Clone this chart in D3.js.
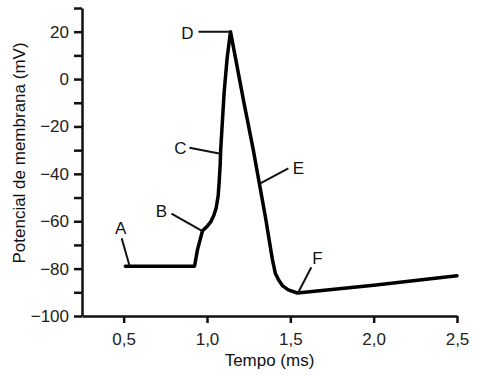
<!DOCTYPE html>
<meta charset="utf-8">
<style>
body { margin: 0; background: #fff; }
svg { font-family: "Liberation Sans", Arial, sans-serif; }
.axis path, .axis line { stroke: #111; }
.axis text { fill: #222; font-size: 17px; }
.trace { fill: none; stroke: #000; stroke-width: 3.5px; stroke-linejoin: round; stroke-linecap: round; }
.lead { stroke: #111; stroke-width: 2px; }
.mark-label { font-size: 17px; fill: #111; text-anchor: middle; }
</style>
<svg width="480" height="378"></svg>
<script src="https://cdn.jsdelivr.net/npm/d3@7"></script>
<script>

// action potential trace
var time    = [0.51, 0.925, 0.943, 0.973, 0.998, 1.022, 1.040, 1.055, 1.067, 1.073, 1.079, 1.082,
               1.103, 1.121, 1.141, 1.219, 1.278, 1.314, 1.350, 1.392, 1.410, 1.430, 1.454,
               1.488, 1.542, 2.0, 2.5];
var voltage = [-79, -79, -72, -64, -62.4, -60.3, -57.7, -54.4, -49.3, -43.4, -36.2, -30,
               -5.4, 9, 20, -9, -30, -44, -58, -76, -82, -84.8, -87.3,
               -89, -90.3, -87, -83];

var xTicks = [0.5, 1.0, 1.5, 2.0, 2.5];
var yTicks = [-100, -90, -80, -70, -60, -50, -40, -30, -20, -10, 0, 10, 20, 30];
var yLabelled = [-100, -80, -60, -40, -20, 0, 20];

// lettered points on the curve
var markLabels = ["A", "B", "C", "D", "E", "F"];
var markTime   = [0.536, 0.967, 1.081, 1.141, 1.32, 1.548];
var markVolt   = [-79, -64, -31.5, 20, -44, -90];

var svg = d3.select("svg"),
    margin = {top: 8, right: 23, bottom: 62, left: 82},
    width = 480 - margin.left - margin.right,
    height = 378 - margin.top - margin.bottom,
    g = svg.append("g").attr("transform", "translate(" + margin.left + "," + margin.top + ")");

var x = d3.scaleLinear().domain([0.25, 2.5]).range([0, width]),
    y = d3.scaleLinear().domain([-100, 30]).range([height, 0]);

var fmtX = function(d) { return d3.format(".1f")(d).replace(".", ","); };
var fmtY = function(d) {
  if (yLabelled.indexOf(d) < 0) return "";
  return d < 0 ? "\u2212" + Math.abs(d) : "" + d;
};

// x axis
var xa = g.append("g")
    .attr("class", "axis")
    .attr("transform", "translate(0," + height + ")")
    .call(d3.axisBottom(x).tickValues(xTicks).tickFormat(fmtX).tickSize(7).tickSizeOuter(0).tickPadding(10));
xa.select(".domain").attr("stroke-width", 2.5);
xa.selectAll(".tick line").attr("stroke-width", 2.5);

// y axis
var ya = g.append("g")
    .attr("class", "axis")
    .call(d3.axisLeft(y).tickValues(yTicks).tickFormat(fmtY).tickSize(8).tickSizeOuter(0).tickPadding(5));
ya.select(".domain").attr("stroke-width", 2.5);
ya.selectAll(".tick line").attr("stroke-width", 2.5);

// axis titles
svg.append("text")
    .attr("x", margin.left + width / 2)
    .attr("y", 366)
    .attr("text-anchor", "middle")
    .style("font-size", "17px")
    .attr("fill", "#111")
    .text("Tempo (ms)");

svg.append("text")
    .attr("transform", "translate(25," + 153 + ") rotate(-90)")
    .attr("text-anchor", "middle")
    .style("font-size", "17px")
    .attr("fill", "#111")
    .text("Potencial de membrana (mV)");

// the trace
var line = d3.line()
    .x(function(d, i) { return x(time[i]); })
    .y(function(d) { return y(d); });

g.append("path")
    .attr("class", "trace")
    .attr("d", line(voltage));

// leader lines + letters, offsets in px from the anchor
var leadOff = [[-8, -28], [-30, -17], [-31, -6], [-32, 0], [28, -15], [13, -25]];
var textOff = [[-9, -32], [-40, -14], [-40, 0], [-43, 7], [38, -9], [19, -28]];

var marks = g.selectAll(".mark")
    .data(markLabels)
    .enter().append("g")
    .attr("class", "mark")
    .attr("transform", function(d, i) { return "translate(" + x(markTime[i]) + "," + y(markVolt[i]) + ")"; });

marks.append("line")
    .attr("class", "lead")
    .attr("x1", 0).attr("y1", 0)
    .attr("x2", function(d, i) { return leadOff[i][0]; })
    .attr("y2", function(d, i) { return leadOff[i][1]; });

marks.append("text")
    .attr("class", "mark-label")
    .attr("x", function(d, i) { return textOff[i][0]; })
    .attr("y", function(d, i) { return textOff[i][1]; })
    .text(function(d) { return d; });

</script>
